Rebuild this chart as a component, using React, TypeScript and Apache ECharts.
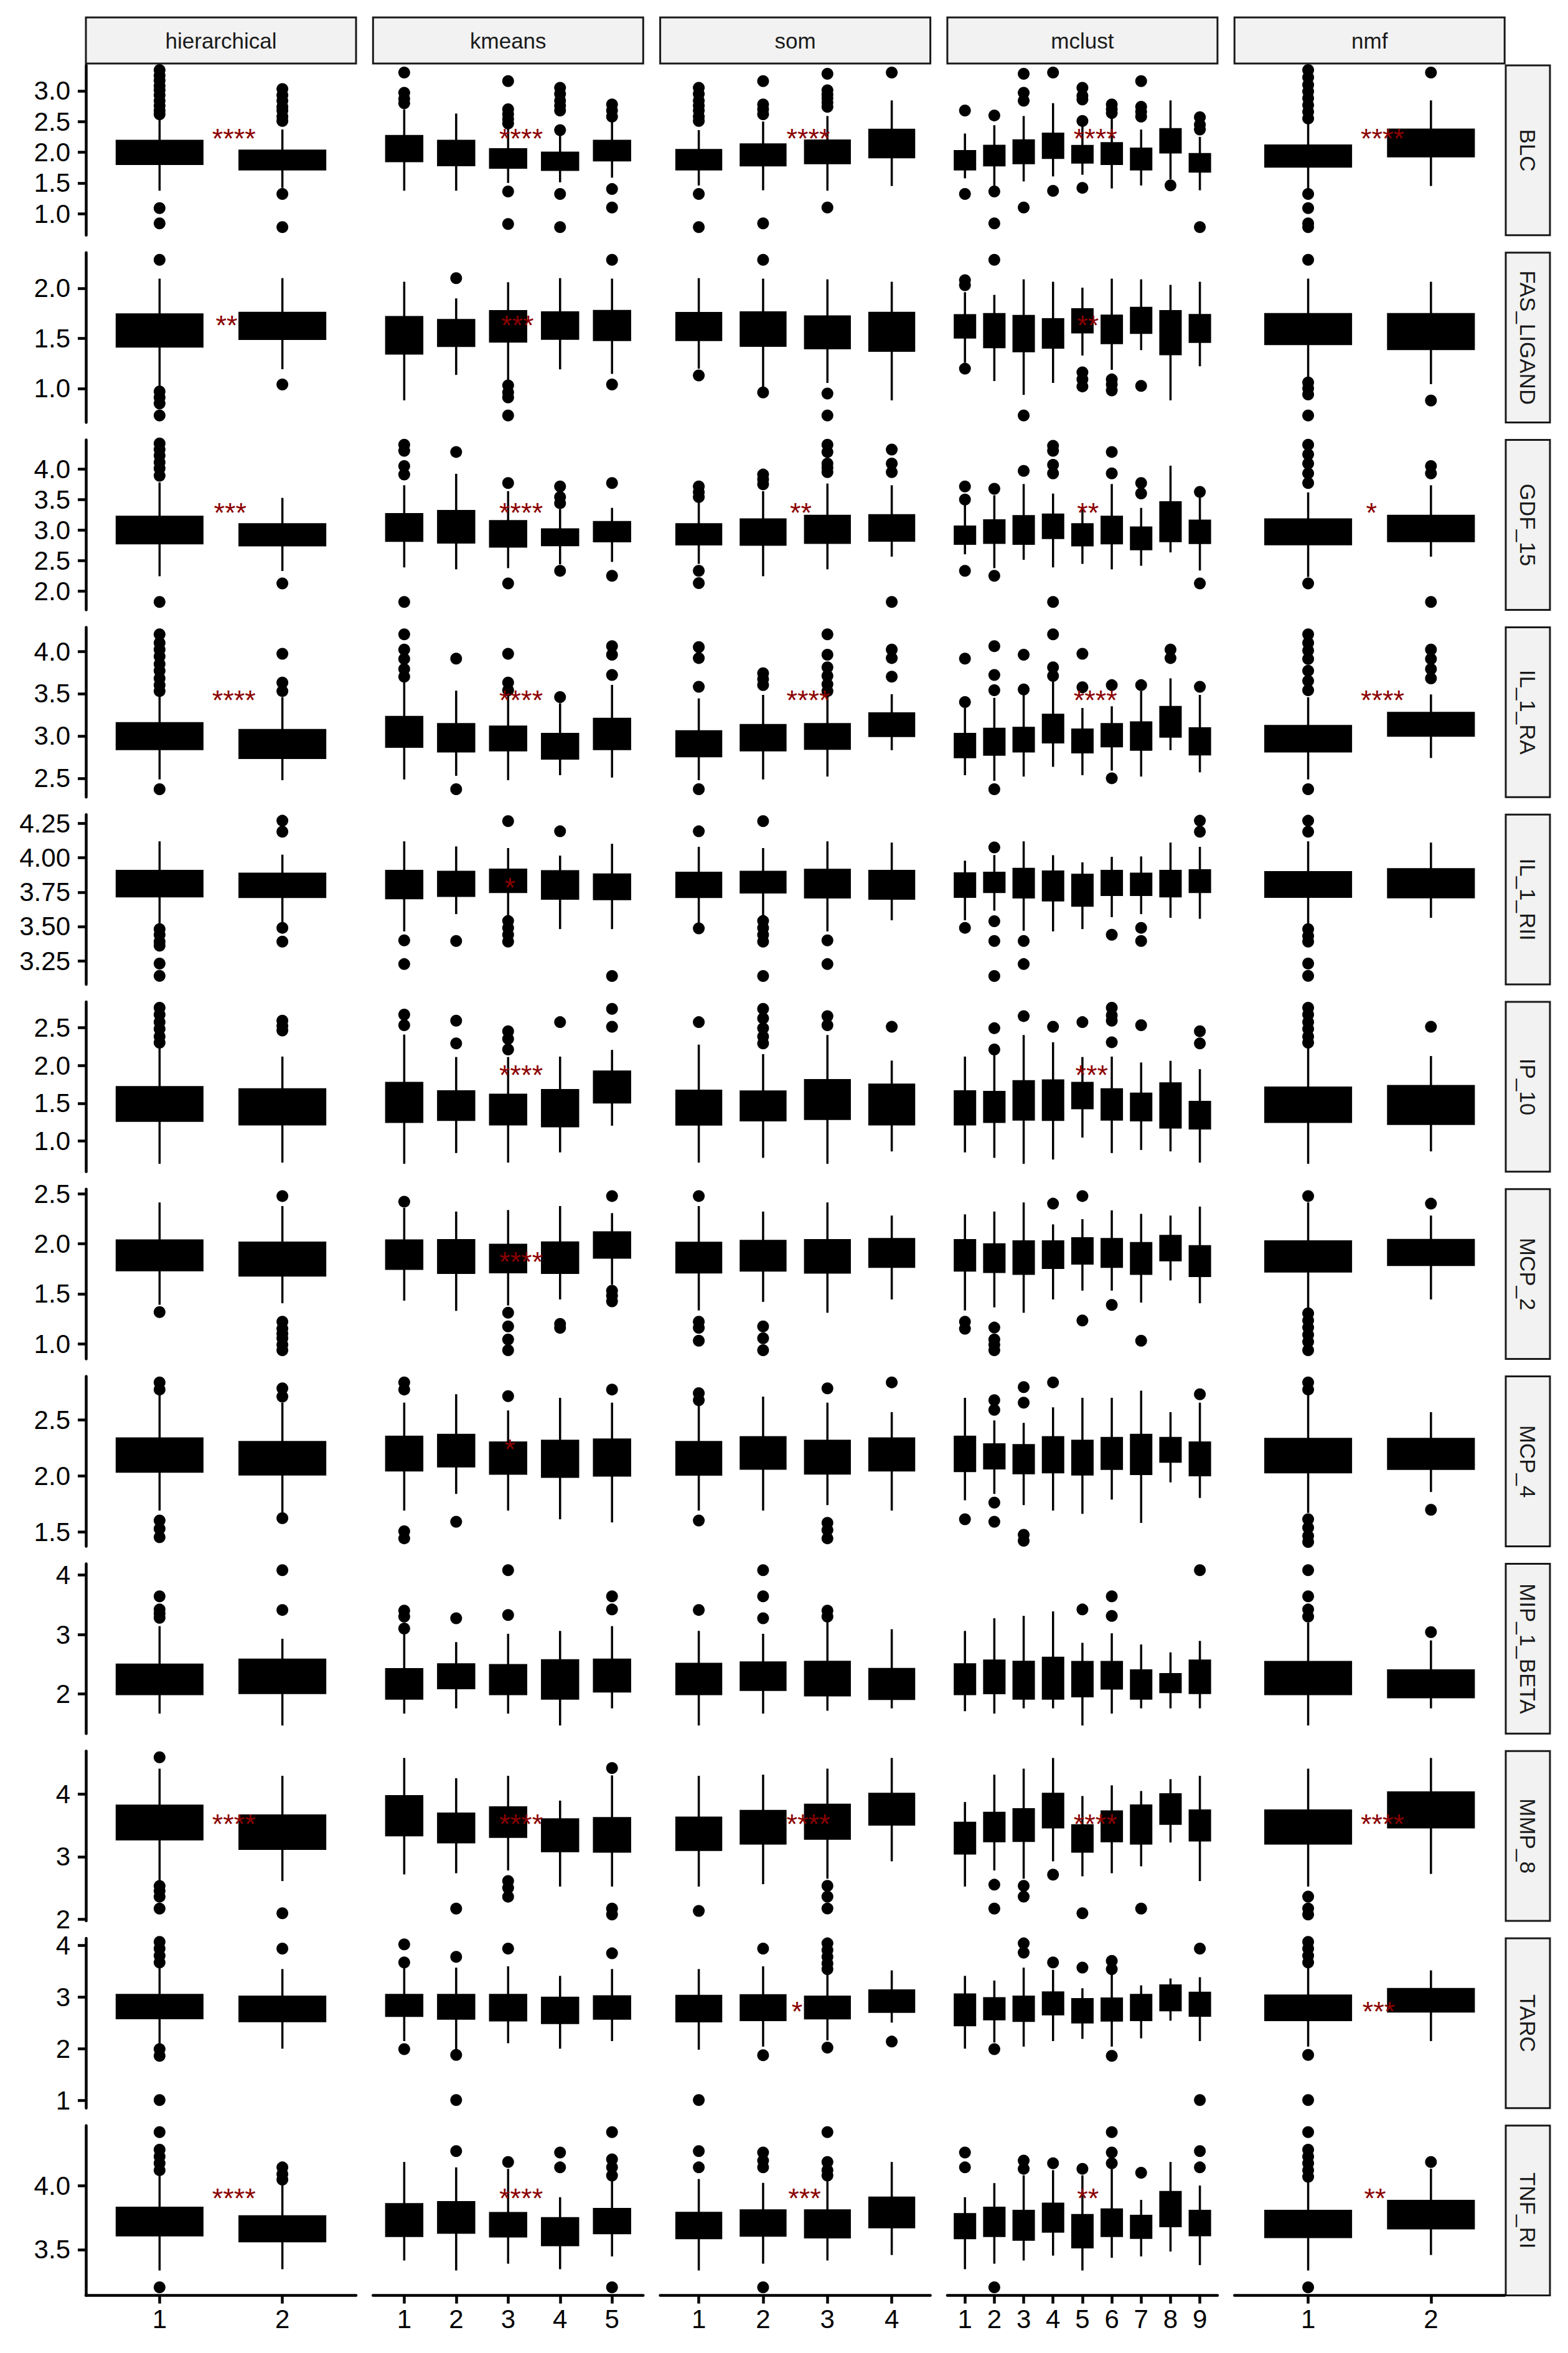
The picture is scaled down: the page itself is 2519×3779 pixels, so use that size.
import React, { useEffect, useRef } from "react";
import * as echarts from "echarts";

const methods = ["hierarchical", "kmeans", "som", "mclust", "nmf"];
const clusterCounts = [2, 5, 4, 9, 2];
const markers = ["BLC", "FAS_LIGAND", "GDF_15", "IL_1_RA", "IL_1_RII", "IP_10", "MCP_2", "MCP_4", "MIP_1_BETA", "MMP_8", "TARC", "TNF_RI"];

const yMin = [0.647, 0.66, 1.691, 2.277, 3.078, 0.597, 0.848, 1.372, 1.336, 1.973, 0.847, 3.142];
const yMax = [3.416, 2.354, 4.477, 4.284, 4.315, 2.838, 2.545, 2.889, 4.188, 4.69, 4.138, 4.468];
const yTicks = [
  [1, 1.5, 2, 2.5, 3], [1, 1.5, 2], [2, 2.5, 3, 3.5, 4], [2.5, 3, 3.5, 4], [3.25, 3.5, 3.75, 4, 4.25],
  [1, 1.5, 2, 2.5], [1, 1.5, 2, 2.5], [1.5, 2, 2.5], [2, 3, 4], [2, 3, 4], [1, 2, 3, 4], [3.5, 4],
];
const yDigits = [1, 1, 1, 1, 2, 1, 1, 1, 0, 0, 0, 1];

// Boxes: [lower whisker, Q1, Q3, upper whisker]
// order: hierarchical 1-2, kmeans 1-5, som 1-4, mclust 1-9, nmf 1-2
const blcBox = [
  [1.373, 1.808, 2.188, 2.584], [1.419, 1.718, 2.029, 2.371],
  [1.373, 1.854, 2.266, 2.70], [1.373, 1.788, 2.188, 2.631], [1.50, 1.746, 2.052, 2.39], [1.51, 1.711, 1.994, 2.27], [1.586, 1.866, 2.188, 2.51],
  [1.458, 1.718, 2.037, 2.36], [1.38, 1.784, 2.13, 2.50], [1.373, 1.819, 2.192, 2.59], [1.45, 1.917, 2.367, 2.845],
  [1.575, 1.718, 2.021, 2.305], [1.373, 1.784, 2.107, 2.44], [1.524, 1.819, 2.196, 2.59], [1.606, 1.905, 2.305, 2.80], [1.633, 1.831, 2.103, 2.44], [1.41, 1.808, 2.15, 2.565], [1.458, 1.718, 2.06, 2.37], [1.56, 1.994, 2.379, 2.845], [1.38, 1.683, 1.971, 2.25],
  [1.373, 1.765, 2.111, 2.468], [1.45, 1.932, 2.371, 2.845],
];
const blcOut = [
  [3.34, 3.25, 3.17, 3.08, 3.01, 2.93, 2.84, 2.76, 2.68, 2.62, 1.09, 0.84], [3.03, 2.93, 2.84, 2.74, 2.68, 2.58, 2.51, 1.32, 0.78],
  [3.30, 2.97, 2.87, 2.80], [], [3.16, 2.70, 2.62, 2.54, 2.47, 1.36, 0.83], [3.05, 2.95, 2.84, 2.76, 2.68, 2.36, 1.32, 0.78], [2.78, 2.68, 2.58, 1.40, 1.10],
  [3.05, 2.95, 2.84, 2.76, 2.68, 2.58, 2.51, 1.32, 0.78], [3.16, 2.78, 2.70, 2.62, 0.84], [3.28, 3.01, 2.94, 2.88, 2.81, 2.74, 1.10], [3.30],
  [2.68, 1.32], [2.60, 1.36, 0.84], [3.28, 2.97, 2.84, 1.10], [3.30, 1.37], [3.05, 2.92, 2.86, 2.51, 1.42], [2.78, 2.70, 2.64], [3.16, 2.74, 2.66, 2.58], [1.46], [2.57, 2.45, 2.37, 0.78],
  [3.34, 3.22, 3.10, 2.99, 2.88, 2.77, 2.66, 2.55, 1.32, 1.09, 0.84, 0.78], [3.30],
];

const fasBox = [
  [1.019, 1.416, 1.739, 2.095], [1.192, 1.492, 1.755, 2.10],
  [0.881, 1.347, 1.713, 2.064], [1.135, 1.423, 1.684, 1.898], [1.078, 1.466, 1.772, 2.059], [1.19, 1.494, 1.76, 2.10], [1.145, 1.482, 1.774, 2.095],
  [1.197, 1.482, 1.753, 2.10], [1.007, 1.425, 1.76, 2.095], [1.055, 1.40, 1.72, 2.088], [0.881, 1.375, 1.755, 2.064],
  [1.257, 1.506, 1.732, 1.96], [1.074, 1.411, 1.743, 1.933], [0.936, 1.37, 1.724, 2.088], [1.055, 1.406, 1.691, 2.064], [1.328, 1.558, 1.791, 2.005], [1.185, 1.451, 1.727, 2.095], [1.382, 1.553, 1.805, 2.088], [0.881, 1.34, 1.772, 2.033], [1.221, 1.463, 1.734, 2.064],
  [1.10, 1.442, 1.743, 2.095], [1.043, 1.392, 1.743, 2.064],
];
const fasOut = [
  [2.283, 0.97, 0.91, 0.85, 0.73], [1.04],
  [], [2.10], [1.03, 0.96, 0.91, 0.73], [], [2.283, 1.04],
  [1.13], [2.283, 0.96], [0.95, 0.73], [],
  [2.08, 2.03, 1.197], [2.283], [0.73], [], [1.16, 1.09, 1.02], [1.09, 1.04, 0.98], [1.026], [], [],
  [2.283, 1.06, 1.00, 0.94, 0.73], [0.88],
];

const gdfBox = [
  [2.242, 2.781, 3.219, 3.781], [2.328, 2.746, 3.098, 3.527],
  [2.387, 2.82, 3.262, 3.734], [2.355, 2.793, 3.313, 3.922], [2.375, 2.727, 3.148, 3.637], [2.437, 2.75, 3.012, 3.344], [2.477, 2.813, 3.133, 3.363],
  [2.445, 2.762, 3.098, 3.46], [2.242, 2.758, 3.176, 3.637], [2.355, 2.789, 3.234, 3.762], [2.563, 2.824, 3.246, 3.734],
  [2.602, 2.773, 3.059, 3.422], [2.375, 2.789, 3.16, 3.57], [2.512, 2.773, 3.23, 3.754], [2.387, 2.867, 3.254, 3.598], [2.445, 2.746, 3.098, 3.38], [2.355, 2.781, 3.219, 3.754], [2.414, 2.684, 3.043, 3.363], [2.633, 2.816, 3.457, 4.055], [2.336, 2.785, 3.156, 3.531],
  [2.23, 2.766, 3.176, 3.617], [2.563, 2.816, 3.234, 3.734],
];
const gdfOut = [
  [4.42, 4.32, 4.22, 4.11, 4.01, 3.89, 1.82], [2.125],
  [4.40, 4.30, 4.05, 3.91, 1.82], [4.28], [3.77, 2.125], [3.715, 3.54, 3.44, 2.33], [3.77, 2.25],
  [3.715, 3.62, 3.54, 2.33, 2.13], [3.91, 3.83, 3.75], [4.40, 4.28, 4.09, 4.02, 3.95], [4.32, 4.09, 3.95, 1.82],
  [3.715, 3.50, 2.33], [3.676, 2.25], [3.97], [4.38, 4.30, 4.07, 3.93, 1.82], [], [4.28, 3.93], [3.77, 3.60], [], [3.625, 2.125],
  [4.40, 4.24, 4.09, 3.93, 3.77, 2.125], [4.05, 3.93, 1.82],
];

const ilraBox = [
  [2.486, 2.843, 3.153, 3.485], [2.477, 2.739, 3.071, 3.457],
  [2.486, 2.871, 3.226, 3.64], [2.528, 2.815, 3.142, 3.535], [2.477, 2.829, 3.111, 3.485], [2.536, 2.731, 3.026, 3.387], [2.508, 2.843, 3.204, 3.603],
  [2.477, 2.759, 3.057, 3.443], [2.486, 2.829, 3.13, 3.485], [2.52, 2.846, 3.142, 3.49], [2.832, 2.998, 3.268, 3.493],
  [2.536, 2.748, 3.026, 3.33], [2.47, 2.776, 3.085, 3.45], [2.52, 2.815, 3.097, 3.485], [2.635, 2.922, 3.251, 3.64], [2.536, 2.804, 3.077, 3.33], [2.59, 2.877, 3.142, 3.35], [2.52, 2.835, 3.161, 3.53], [2.832, 2.99, 3.344, 3.68], [2.57, 2.781, 3.091, 3.485],
  [2.486, 2.815, 3.119, 3.457], [2.739, 3.001, 3.274, 3.49],
];
const ilraOut = [
  [4.20, 4.10, 4.02, 3.94, 3.85, 3.77, 3.68, 3.60, 3.53, 2.37], [3.97, 3.63, 3.53],
  [4.20, 4.02, 3.91, 3.79, 3.70], [3.913, 2.37], [3.97, 3.63, 3.54], [3.46], [4.06, 3.96, 3.72],
  [4.05, 3.92, 3.58, 2.37], [3.74, 3.67, 3.60], [4.20, 3.96, 3.81, 3.71, 3.61, 3.53], [4.02, 3.92, 3.70],
  [3.913, 3.40], [4.06, 3.72, 3.54, 2.37], [3.96, 3.55], [4.20, 3.81, 3.71], [3.97, 3.575], [3.60, 2.50], [3.60], [4.02, 3.92], [3.58],
  [4.20, 4.10, 4.01, 3.91, 3.77, 3.65, 3.54, 2.37], [4.02, 3.91, 3.79, 3.68],
];

const ilriiBox = [
  [3.51, 3.719, 3.906, 4.12], [3.524, 3.714, 3.885, 4.023],
  [3.464, 3.705, 3.905, 4.12], [3.59, 3.722, 3.899, 4.083], [3.58, 3.75, 3.915, 4.071], [3.481, 3.701, 3.903, 4.016], [3.481, 3.698, 3.88, 4.102],
  [3.521, 3.714, 3.892, 4.08], [3.58, 3.747, 3.899, 4.071], [3.464, 3.71, 3.913, 4.12], [3.545, 3.701, 3.906, 4.111],
  [3.545, 3.715, 3.887, 3.979], [3.615, 3.75, 3.892, 4.02], [3.469, 3.71, 3.92, 4.12], [3.464, 3.689, 3.901, 4.019], [3.481, 3.651, 3.877, 3.967], [3.568, 3.729, 3.906, 4.007], [3.59, 3.729, 3.885, 4.01], [3.563, 3.719, 3.905, 4.111], [3.556, 3.75, 3.91, 4.08],
  [3.516, 3.715, 3.896, 4.12], [3.563, 3.712, 3.918, 4.111],
];
const ilriiOut = [
  [3.48, 3.44, 3.39, 3.36, 3.23, 3.14], [4.27, 4.19, 3.49, 3.39],
  [3.399, 3.226], [3.394], [4.267, 3.54, 3.49, 3.44, 3.39], [4.193], [3.139],
  [4.193, 3.486], [4.267, 3.54, 3.49, 3.44, 3.39, 3.139], [3.399, 3.226], [],
  [3.49], [4.076, 3.538, 3.394, 3.139], [3.394, 3.226], [], [], [3.44], [3.49, 3.394], [], [4.27, 4.19],
  [4.27, 4.19, 3.48, 3.43, 3.39, 3.23, 3.14], [],
];

const ipBox = [
  [0.701, 1.267, 1.714, 2.274], [0.717, 1.22, 1.686, 2.116],
  [0.701, 1.252, 1.77, 2.406], [0.843, 1.28, 1.66, 2.11], [0.717, 1.22, 1.613, 2.11], [0.852, 1.195, 1.676, 2.116], [1.204, 1.509, 1.921, 2.204],
  [0.717, 1.217, 1.667, 2.274], [0.78, 1.274, 1.657, 2.148], [0.701, 1.292, 1.808, 2.40], [0.865, 1.22, 1.748, 2.063],
  [0.852, 1.22, 1.66, 2.116], [0.78, 1.252, 1.651, 2.132], [0.701, 1.283, 1.792, 2.40], [0.758, 1.28, 1.802, 2.305], [1.047, 1.434, 1.77, 2.11], [0.843, 1.283, 1.686, 2.116], [0.884, 1.274, 1.629, 2.038], [0.865, 1.179, 1.764, 2.06], [0.717, 1.167, 1.519, 1.95],
  [0.701, 1.252, 1.708, 2.274], [0.865, 1.226, 1.73, 2.123],
];
const ipOut = [
  [2.76, 2.67, 2.57, 2.48, 2.38, 2.30], [2.59, 2.52, 2.46],
  [2.67, 2.53], [2.59, 2.29], [2.45, 2.35, 2.21], [2.57], [2.745, 2.51],
  [2.57], [2.745, 2.62, 2.49, 2.38, 2.29], [2.65, 2.53], [2.51],
  [], [2.49, 2.21], [2.65], [2.51], [2.57], [2.76, 2.66, 2.59, 2.305], [2.53], [], [2.45, 2.29],
  [2.76, 2.67, 2.57, 2.48, 2.38, 2.30], [2.51],
];

const mcp2Box = [
  [1.39, 1.733, 2.033, 2.412], [1.405, 1.681, 2.012, 2.376],
  [1.431, 1.748, 2.033, 2.357], [1.329, 1.707, 2.036, 2.321], [1.383, 1.714, 1.99, 2.336], [1.443, 1.707, 2.014, 2.376], [1.59, 1.86, 2.114, 2.305],
  [1.333, 1.712, 2.01, 2.376], [1.419, 1.731, 2.029, 2.321], [1.31, 1.71, 2.036, 2.412], [1.443, 1.767, 2.048, 2.281],
  [1.333, 1.731, 2.036, 2.293], [1.364, 1.717, 1.995, 2.321], [1.31, 1.698, 2.024, 2.412], [1.443, 1.757, 2.024, 2.193], [1.531, 1.80, 2.055, 2.245], [1.531, 1.767, 2.048, 2.333], [1.412, 1.698, 2.007, 2.298], [1.633, 1.833, 2.079, 2.281], [1.405, 1.676, 1.976, 2.371],
  [1.352, 1.721, 2.024, 2.412], [1.443, 1.786, 2.038, 2.281],
];
const mcp2Out = [
  [1.317], [2.476, 1.22, 1.15, 1.10, 1.055, 0.99, 0.936],
  [2.42], [], [1.31, 1.174, 1.043, 0.936], [1.198, 1.16], [2.476, 1.53, 1.48, 1.424],
  [2.476, 1.22, 1.16, 1.03], [1.174, 1.055, 0.936], [], [],
  [1.22, 1.15], [1.162, 1.043, 0.99, 0.936], [], [2.40], [2.476, 1.233], [1.388], [1.031], [], [],
  [2.476, 1.305, 1.233, 1.162, 1.09, 1.019, 0.936], [2.40],
];

const mcp4Box = [
  [1.691, 2.038, 2.336, 2.734], [1.655, 2.013, 2.304, 2.655],
  [1.691, 2.049, 2.351, 2.655], [1.84, 2.085, 2.368, 2.73], [1.691, 2.019, 2.30, 2.585], [1.613, 1.991, 2.315, 2.698], [1.585, 2.002, 2.326, 2.655],
  [1.691, 2.011, 2.304, 2.645], [1.691, 2.064, 2.347, 2.709], [1.74, 2.021, 2.315, 2.655], [1.691, 2.049, 2.336, 2.57],
  [1.783, 2.043, 2.351, 2.698], [1.84, 2.066, 2.283, 2.496], [1.74, 2.023, 2.277, 2.474], [1.691, 2.032, 2.347, 2.613], [1.662, 2.013, 2.315, 2.698], [1.789, 2.062, 2.34, 2.698], [1.581, 2.017, 2.368, 2.762], [1.943, 2.126, 2.34, 2.57], [1.804, 2.006, 2.30, 2.655],
  [1.67, 2.032, 2.332, 2.73], [1.857, 2.062, 2.332, 2.57],
];
const mcp4Out = [
  [2.836, 2.772, 1.602, 1.528, 1.453], [2.783, 2.709, 1.623],
  [2.836, 2.772, 1.506, 1.443], [1.591], [2.713], [], [2.772],
  [2.74, 2.677, 1.602], [], [2.783, 1.581, 1.517, 1.443], [2.836],
  [1.613], [2.677, 2.591, 1.762, 1.591], [2.794, 2.655, 1.474, 1.421], [2.836], [], [], [], [], [2.73],
  [2.836, 2.772, 1.613, 1.538, 1.464, 1.41], [1.698],
];

const mipBox = [
  [1.672, 1.996, 2.496, 3.14], [1.472, 2.016, 2.58, 2.928],
  [1.672, 1.92, 2.42, 3.0], [1.76, 2.096, 2.50, 2.872], [1.672, 1.996, 2.488, 3.012], [1.472, 1.92, 2.568, 3.06], [1.76, 2.04, 2.58, 3.14],
  [1.472, 1.996, 2.508, 3.06], [1.672, 2.068, 2.532, 3.012], [1.72, 1.976, 2.544, 3.22], [1.76, 1.916, 2.424, 3.088],
  [1.712, 1.996, 2.50, 3.06], [1.672, 2.012, 2.564, 3.272], [1.76, 1.92, 2.544, 3.312], [1.76, 1.92, 2.612, 3.388], [1.472, 1.96, 2.54, 2.86], [1.672, 2.092, 2.54, 3.02], [1.76, 1.92, 2.40, 2.832], [1.76, 2.032, 2.336, 2.70], [1.76, 2.016, 2.564, 2.892],
  [1.472, 1.996, 2.54, 3.20], [1.76, 1.944, 2.40, 2.90],
];
const mipOut = [
  [3.64, 3.42, 3.35, 3.28], [4.08, 3.412],
  [3.40, 3.30, 3.10], [3.272], [4.08, 3.328], [], [3.64, 3.42],
  [3.412], [4.08, 3.64, 3.272], [3.40, 3.30], [],
  [], [], [], [], [3.42], [3.64, 3.312], [], [], [4.08],
  [4.08, 3.64, 3.42, 3.30], [3.04],
];

const mmpBox = [
  [2.59, 3.276, 3.817, 4.408], [2.61, 3.124, 3.661, 4.293],
  [2.716, 3.341, 3.97, 4.579], [2.735, 3.227, 3.691, 4.255], [2.78, 3.314, 3.79, 4.293], [2.522, 3.086, 3.60, 3.897], [2.522, 3.078, 3.619, 4.30],
  [2.522, 3.105, 3.627, 4.293], [2.56, 3.208, 3.733, 4.312], [2.648, 3.284, 3.832, 4.408], [2.926, 3.512, 4.008, 4.579],
  [2.522, 3.048, 3.543, 3.874], [2.78, 3.246, 3.703, 4.312], [2.648, 3.25, 3.76, 4.408], [2.926, 3.467, 4.008, 4.579], [2.686, 3.078, 3.505, 3.97], [2.735, 3.246, 3.726, 4.141], [2.846, 3.208, 3.821, 4.05], [3.227, 3.524, 4.0, 4.24], [2.61, 3.257, 3.741, 4.293],
  [2.522, 3.208, 3.741, 4.408], [2.724, 3.467, 4.03, 4.579],
];
const mmpOut = [
  [4.59, 2.53, 2.45, 2.36, 2.17], [2.095],
  [], [2.17], [2.61, 2.50, 2.36], [], [4.419, 2.17, 2.076],
  [2.133], [], [2.533, 2.362, 2.171], [],
  [], [2.552, 2.17], [2.533, 2.362], [2.712], [2.095], [], [2.17], [], [],
  [2.362, 2.171, 2.076], [],
];

const tarcBox = [
  [2.04, 2.589, 3.042, 3.62], [2.0, 2.532, 3.01, 3.542],
  [2.147, 2.632, 3.042, 3.57], [1.96, 2.579, 3.042, 3.57], [2.105, 2.547, 3.042, 3.595], [2.0, 2.495, 2.99, 3.41], [2.147, 2.579, 3.016, 3.542],
  [1.98, 2.526, 3.026, 3.542], [2.04, 2.553, 3.037, 3.595], [2.16, 2.584, 3.01, 3.44], [2.505, 2.71, 3.132, 3.516],
  [2.0, 2.453, 3.053, 3.41], [2.12, 2.568, 2.979, 3.32], [2.04, 2.537, 3.01, 3.57], [2.147, 2.663, 3.09, 3.526], [2.19, 2.505, 2.963, 3.17], [2.04, 2.542, 2.974, 3.46], [2.2, 2.553, 3.042, 3.226], [2.542, 2.742, 3.226, 3.36], [2.147, 2.637, 3.084, 3.384],
  [2.04, 2.553, 3.032, 3.57], [2.147, 2.716, 3.158, 3.516],
];
const tarcOut = [
  [4.07, 3.94, 3.80, 3.67, 1.99, 1.86, 1.005], [3.94],
  [4.02, 3.67, 1.99], [3.78, 1.88, 1.005], [3.94], [], [3.847],
  [1.005], [3.94, 1.874], [4.04, 3.91, 3.78, 3.65, 3.54, 2.02], [2.137],
  [], [1.99], [4.04, 3.86], [3.67], [3.57], [3.70, 3.54, 1.86], [], [], [3.94, 1.005],
  [4.07, 3.94, 3.80, 3.67, 1.88, 1.005], [],
];

const tnfBox = [
  [3.337, 3.61, 3.828, 4.085], [3.347, 3.564, 3.761, 4.015],
  [3.415, 3.606, 3.856, 4.184], [3.337, 3.631, 3.871, 4.142], [3.39, 3.602, 3.786, 4.13], [3.347, 3.534, 3.746, 3.909], [3.447, 3.627, 3.818, 4.047],
  [3.337, 3.589, 3.788, 4.051], [3.39, 3.608, 3.807, 4.021], [3.415, 3.595, 3.807, 4.04], [3.458, 3.674, 3.907, 4.184],
  [3.347, 3.589, 3.778, 3.909], [3.39, 3.606, 3.828, 4.019], [3.415, 3.576, 3.803, 4.08], [3.453, 3.64, 3.86, 4.12], [3.337, 3.517, 3.771, 4.08], [3.436, 3.606, 3.814, 4.13], [3.447, 3.591, 3.765, 3.888], [3.485, 3.682, 3.951, 4.184], [3.379, 3.612, 3.803, 4.0],
  [3.337, 3.597, 3.803, 4.036], [3.458, 3.665, 3.881, 4.131],
];
const tnfOut = [
  [4.417, 4.28, 4.227, 4.174, 4.12, 3.206], [4.142, 4.089, 4.047],
  [], [4.269], [4.184], [4.258, 4.142], [4.417, 4.205, 4.142, 4.078, 3.206],
  [4.269, 4.142], [4.258, 4.195, 4.142, 3.206], [4.417, 4.184, 4.12, 4.078], [],
  [4.258, 4.142], [3.206], [4.195, 4.131], [4.174], [4.131], [4.417, 4.258, 4.174], [4.10], [], [4.269, 4.142],
  [4.417, 4.28, 4.227, 4.174, 4.12, 4.068, 3.206], [4.184],
];

// significance labels per marker (hierarchical, kmeans, som, mclust, nmf)
const signif = [
  ["****", "****", "****", "****", "****"],
  ["**", "***", "", "**", ""],
  ["***", "****", "**", "**", "*"],
  ["****", "****", "****", "****", "****"],
  ["", "*", "", "", ""],
  ["", "****", "", "***", ""],
  ["", "****", "", "", ""],
  ["", "*", "", "", ""],
  ["", "", "", "", ""],
  ["****", "****", "****", "****", "****"],
  ["", "", "*", "", "***"],
  ["****", "****", "***", "**", "**"],
];

const allBoxes = [blcBox, fasBox, gdfBox, ilraBox, ilriiBox, ipBox, mcp2Box, mcp4Box, mipBox, mmpBox, tarcBox, tnfBox];
const allOutliers = [blcOut, fasOut, gdfOut, ilraOut, ilriiOut, ipOut, mcp2Out, mcp4Out, mipOut, mmpOut, tarcOut, tnfOut];

// ---- layout / style ----
const FONT = '"Liberation Sans", Arial, Helvetica, sans-serif';
const CHART_W = 2519;
const CHART_H = 3779;
const PANEL_LEFT = 138;
const PANEL_STEP_X = 461.3;
const PANEL_W = 434;
const PANEL_TOP = 105;
const PANEL_STEP_Y = 300.8;
const PANEL_H = 272.8;
const STRIP_TOP = 28;
const STRIP_H = 74;
const RSTRIP_X = 2419;
const RSTRIP_W = 71;
const BOX_WIDTH = 0.7;
const AXIS_W = 4.5;
const STAR_COLOR = "#8B0000";
const STAR_SIZE = 45;

function buildOption() {
  const grid: any[] = [];
  const xAxis: any[] = [];
  const yAxis: any[] = [];
  const series: any[] = [];
  const graphic: any[] = [];
  const nRows = markers.length;
  const offsets: number[] = [];
  let acc = 0;
  clusterCounts.forEach((n) => { offsets.push(acc); acc += n; });

  for (let r = 0; r < nRows; r++) {
    const top = PANEL_TOP + r * PANEL_STEP_Y;
    for (let c = 0; c < methods.length; c++) {
      const g = r * methods.length + c;
      const left = PANEL_LEFT + c * PANEL_STEP_X;
      const n = clusterCounts[c];
      const cats = Array.from({ length: n }, (_, i) => i + 1);
      grid.push({ left, top, width: PANEL_W, height: PANEL_H, containLabel: false, outerBoundsMode: "none" });
      const bottom = r === nRows - 1;
      xAxis.push({
        gridIndex: g, type: "value", min: 0.4, max: n + 0.6,
        splitLine: { show: false },
        axisLine: { show: bottom, onZero: false, lineStyle: { color: "#000", width: AXIS_W } },
        axisTick: { show: bottom, customValues: cats, length: 13, lineStyle: { color: "#000", width: AXIS_W } },
        axisLabel: { show: bottom, customValues: cats, fontSize: 42, color: "#000", fontFamily: FONT, margin: 17 },
      });
      const first = c === 0;
      const digits = yDigits[r];
      yAxis.push({
        gridIndex: g, type: "value", min: yMin[r], max: yMax[r],
        splitLine: { show: false },
        axisLine: { show: first, onZero: false, lineStyle: { color: "#000", width: AXIS_W } },
        axisTick: { show: first, customValues: yTicks[r], length: 13, lineStyle: { color: "#000", width: AXIS_W } },
        axisLabel: {
          show: first, customValues: yTicks[r], fontSize: 42, color: "#000", fontFamily: FONT, margin: 25,
          formatter: (v: number) => Number(v).toFixed(digits),
        },
      });

      const boxes = allBoxes[r].slice(offsets[c], offsets[c] + n);
      const outs = allOutliers[r].slice(offsets[c], offsets[c] + n);
      const outData: number[][] = [];
      outs.forEach((arr, i) => arr.forEach((v) => outData.push([i + 1, v])));
      series.push({
        type: "scatter", xAxisIndex: g, yAxisIndex: g, data: outData,
        symbol: "circle", symbolSize: 19, itemStyle: { color: "#000", opacity: 1 }, silent: true, z: 2,
      });
      series.push({
        type: "custom", xAxisIndex: g, yAxisIndex: g, silent: true, z: 3,
        data: boxes.map((b, i) => [i + 1, b[0], b[1], b[2], b[3]]),
        encode: { x: 0, y: [1, 2, 3, 4] },
        renderItem: (params: any, api: any) => {
          const x = api.value(0);
          const lo = api.coord([x, api.value(1)]);
          const q1 = api.coord([x, api.value(2)]);
          const q3 = api.coord([x, api.value(3)]);
          const hi = api.coord([x, api.value(4)]);
          const w = api.size([BOX_WIDTH, 0])[0];
          return {
            type: "group",
            children: [
              { type: "line", shape: { x1: lo[0], y1: lo[1], x2: q1[0], y2: q1[1] }, style: { stroke: "#000", lineWidth: 3.5 } },
              { type: "line", shape: { x1: q3[0], y1: q3[1], x2: hi[0], y2: hi[1] }, style: { stroke: "#000", lineWidth: 3.5 } },
              { type: "rect", shape: { x: q3[0] - w / 2, y: q3[1], width: w, height: q1[1] - q3[1] }, style: { fill: "#000", stroke: "#000", lineWidth: 3 } },
            ],
          };
        },
      });
      const star = signif[r][c];
      if (star) {
        const k = star.length;
        const yStar = yMin[r] + 0.6 * (yMax[r] - yMin[r]);
        series.push({
          type: "custom", xAxisIndex: g, yAxisIndex: g, silent: true, z: 4,
          data: [[(n + 1) / 2, yStar]],
          renderItem: (params: any, api: any) => {
            const p = api.coord([api.value(0), api.value(1)]);
            return {
              type: "text",
              x: p[0] - 3 - 2.8 * k,
              y: p[1] + 8,
              style: { text: star, fill: STAR_COLOR, fontSize: STAR_SIZE, fontFamily: FONT, align: "left", verticalAlign: "middle" },
            };
          },
        });
      }
    }
    // right strip
    graphic.push({
      type: "rect", shape: { x: RSTRIP_X, y: top, width: RSTRIP_W, height: PANEL_H },
      style: { fill: "#F2F2F2", stroke: "#1a1a1a", lineWidth: 3 },
    });
    graphic.push({
      type: "text", x: RSTRIP_X + RSTRIP_W / 2, y: top + PANEL_H / 2, rotation: -Math.PI / 2,
      style: { text: markers[r], fill: "#1A1A1A", fontSize: 35, fontFamily: FONT, align: "center", verticalAlign: "middle" },
    });
  }
  for (let c = 0; c < methods.length; c++) {
    const left = PANEL_LEFT + c * PANEL_STEP_X;
    graphic.push({
      type: "rect", shape: { x: left, y: STRIP_TOP, width: PANEL_W, height: STRIP_H },
      style: { fill: "#F2F2F2", stroke: "#1a1a1a", lineWidth: 3 },
    });
    graphic.push({
      type: "text", x: left + PANEL_W / 2, y: STRIP_TOP + STRIP_H / 2,
      style: { text: methods[c], fill: "#1A1A1A", fontSize: 35, fontFamily: FONT, align: "center", verticalAlign: "middle" },
    });
  }

  return {
    animation: false,
    backgroundColor: "#fff",
    grid, xAxis, yAxis, series, graphic,
  };
}

export default function App() {
  const ref = useRef<HTMLDivElement>(null);
  useEffect(() => {
    if (!ref.current) return;
    const chart = echarts.init(ref.current, undefined, { renderer: "svg", width: CHART_W, height: CHART_H });
    chart.setOption(buildOption() as any);
    return () => chart.dispose();
  }, []);
  return (
    <div
      ref={ref}
      style={{ position: "absolute", left: 0, top: 0, width: CHART_W, height: CHART_H, background: "#fff" }}
    />
  );
}
